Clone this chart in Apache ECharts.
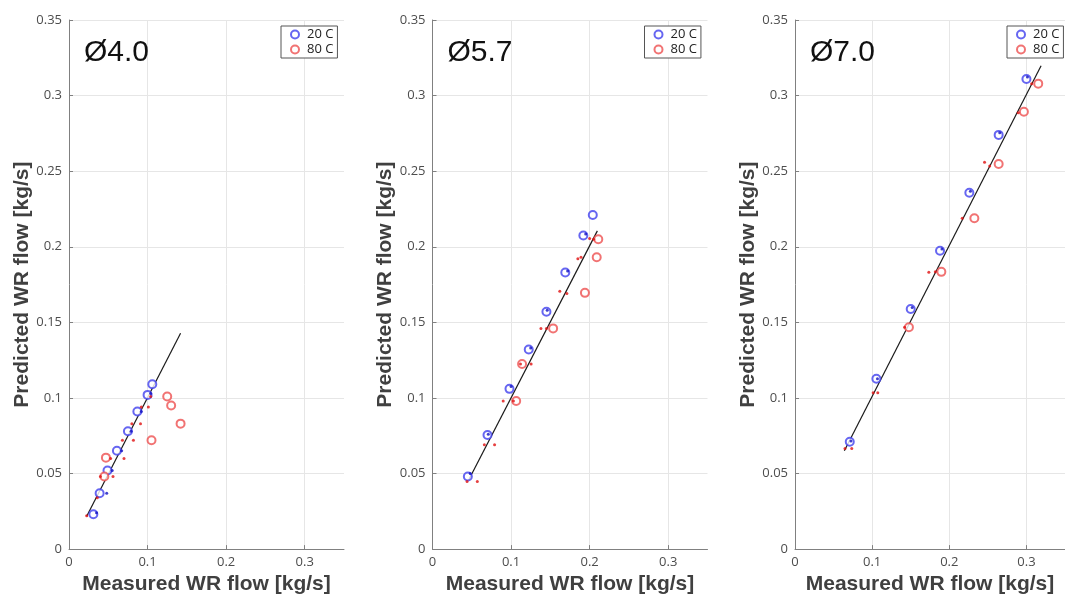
<!DOCTYPE html>
<html>
<head>
<meta charset="utf-8">
<script src="https://cdn.jsdelivr.net/npm/echarts@6/dist/echarts.min.js"></script>
<style>
  html, body { margin: 0; padding: 0; background: #fff; }
  #chart { width: 1065px; height: 600px; }
</style>
</head>
<body>
<div id="chart"></div>
<script>
// Tick values shared by all three panels
const axisTicks = [0, 0.05, 0.1, 0.15, 0.2, 0.25, 0.3, 0.35];
const xTickValues = [0, 0.1, 0.2, 0.3];
const panelTitles = ['Ø4.0', 'Ø5.7', 'Ø7.0'];
const seriesNames = ['20 C', '80 C'];

// Ø4.0 : [measured, predicted] in kg/s
const d40Circles20 = [[0.031, 0.023], [0.039, 0.037], [0.049, 0.052], [0.061, 0.065], [0.075, 0.078], [0.087, 0.091], [0.100, 0.102], [0.106, 0.109]];
const d40Circles80 = [[0.045, 0.048], [0.047, 0.0605], [0.105, 0.072], [0.125, 0.101], [0.130, 0.095], [0.142, 0.083]];
const d40Dots20 = [[0.035, 0.024], [0.048, 0.037], [0.055, 0.052], [0.067, 0.065], [0.079, 0.078], [0.092, 0.091], [0.104, 0.103]];
const d40Dots80 = [[0.0225, 0.022], [0.036, 0.034], [0.040, 0.048], [0.056, 0.048], [0.053, 0.060], [0.070, 0.060], [0.068, 0.072], [0.082, 0.072], [0.080, 0.083], [0.091, 0.083], [0.092, 0.094], [0.101, 0.094], [0.104, 0.101]];
const d40Fit = [[0.0225, 0.0217], [0.142, 0.1428]];

// Ø5.7
const d57Circles20 = [[0.045, 0.048], [0.070, 0.0755], [0.098, 0.106], [0.1225, 0.132], [0.145, 0.157], [0.169, 0.183], [0.192, 0.2075], [0.204, 0.221]];
const d57Circles80 = [[0.1065, 0.098], [0.114, 0.1225], [0.1535, 0.146], [0.194, 0.1695], [0.209, 0.193], [0.211, 0.205]];
const d57Dots20 = [[0.048, 0.050], [0.071, 0.076], [0.100, 0.1075], [0.125, 0.133], [0.146, 0.158], [0.172, 0.184], [0.195, 0.2085]];
const d57Dots80 = [[0.044, 0.0447], [0.057, 0.0447], [0.066, 0.069], [0.079, 0.069], [0.090, 0.098], [0.103, 0.098], [0.112, 0.1225], [0.1255, 0.1225], [0.138, 0.146], [0.145, 0.146], [0.162, 0.1705], [0.171, 0.169], [0.185, 0.192], [0.189, 0.193], [0.200, 0.2055], [0.205, 0.205]];
const d57Fit = [[0.046, 0.0457], [0.2098, 0.2105]];

// Ø7.0
const d70Circles20 = [[0.071, 0.071], [0.1055, 0.1127], [0.150, 0.1588], [0.188, 0.1974], [0.226, 0.2357], [0.264, 0.274], [0.300, 0.311]];
const d70Circles80 = [[0.1477, 0.1467], [0.1897, 0.1834], [0.2325, 0.2189], [0.264, 0.2548], [0.2967, 0.2893], [0.3153, 0.3079]];
const d70Dots20 = [[0.0725, 0.0715], [0.1069, 0.1127], [0.1519, 0.1599], [0.1905, 0.1985], [0.2274, 0.2368], [0.2654, 0.2754], [0.3013, 0.3123]];
const d70Dots80 = [[0.0648, 0.0666], [0.0736, 0.0666], [0.1013, 0.1035], [0.1073, 0.1035], [0.142, 0.1467], [0.1735, 0.1831], [0.1819, 0.1834], [0.2168, 0.2189], [0.2457, 0.2559], [0.2524, 0.2535], [0.2893, 0.2886], [0.3068, 0.3079]];
const d70Fit = [[0.064, 0.065], [0.319, 0.3197]];

const panels = [
  { c20: d40Circles20, c80: d40Circles80, p20: d40Dots20, p80: d40Dots80, fit: d40Fit },
  { c20: d57Circles20, c80: d57Circles80, p20: d57Dots20, p80: d57Dots80, fit: d57Fit },
  { c20: d70Circles20, c80: d70Circles80, p20: d70Dots20, p80: d70Dots80, fit: d70Fit }
];

const BLUE = '#4040ee';
const RED = '#ee5050';
const panelLeft = [69, 432.5, 795];
const plotW = 275, plotTop = 20, plotH = 532;
const tickFont = '"Open Sans", "DejaVu Sans", sans-serif';
const labelFont = '"Liberation Sans", Arial, sans-serif';

const fmt = v => v === 0 ? '0' : String(+v.toFixed(2));

const grid = [], xAxis = [], yAxis = [], series = [], title = [], legend = [];

panels.forEach((p, i) => {
  grid.push({ left: panelLeft[i], top: plotTop, width: plotW, height: plotH, containLabel: false });
  const common = {
    min: axisTicks[0], max: axisTicks[axisTicks.length - 1], interval: 0.05,
    gridIndex: i,
    axisLine: { show: true, lineStyle: { color: '#808080', width: 1 } },
    axisTick: { show: true, inside: true, length: 4, lineStyle: { color: '#808080' } },
    splitLine: { show: true, lineStyle: { color: '#e6e6e6', width: 1 } },
    nameLocation: 'middle',
    nameTextStyle: { fontFamily: labelFont, fontWeight: 'bold', fontSize: 21, color: '#404040' }
  };
  xAxis.push(Object.assign({}, common, {
    type: 'value',
    interval: 0.1,
    name: 'Measured WR flow [kg/s]',
    nameGap: 21,
    axisLabel: { fontFamily: tickFont, fontSize: 13, color: '#4d4d4d', margin: 7, formatter: fmt,
      customValues: xTickValues },
    axisTick: { show: true, inside: true, length: 4, lineStyle: { color: '#808080' }, customValues: xTickValues }
  }));
  yAxis.push(Object.assign({}, common, {
    type: 'value',
    name: 'Predicted WR flow [kg/s]',
    nameGap: 33,
    axisLabel: { fontFamily: tickFont, fontSize: 13, color: '#4d4d4d', margin: 7, formatter: fmt }
  }));

  title.push({
    text: panelTitles[i], left: panelLeft[i] + 15, top: 38, padding: 0,
    textStyle: { fontFamily: labelFont, fontSize: 30, fontWeight: 'normal', color: '#111' }
  });

  legend.push({
    data: seriesNames.map(n => ({ name: n, icon: 'emptyCircle' })),
    orient: 'vertical',
    left: panelLeft[i] + 212, top: 26,
    itemWidth: 8, itemHeight: 8, itemGap: 2,
    padding: [2, 4, 2, 9],
    borderColor: '#555', borderWidth: 1, backgroundColor: '#fff',
    textStyle: { fontFamily: tickFont, fontSize: 13, color: '#222', padding: [0, 0, 0, 3] },
    selectedMode: false
  });

  series.push({
    type: 'line', xAxisIndex: i, yAxisIndex: i, data: p.fit,
    symbol: 'none', lineStyle: { color: '#1a1a1a', width: 1.2 }, silent: true, z: 2
  });
  series.push({
    type: 'scatter', name: '20 C', xAxisIndex: i, yAxisIndex: i, data: p.c20,
    symbol: 'emptyCircle', symbolSize: 8,
    itemStyle: { color: BLUE, borderColor: BLUE, borderWidth: 1 }, z: 3
  });
  series.push({
    type: 'scatter', name: '80 C', xAxisIndex: i, yAxisIndex: i, data: p.c80,
    symbol: 'emptyCircle', symbolSize: 8,
    itemStyle: { color: RED, borderColor: RED, borderWidth: 1 }, z: 3
  });
  series.push({
    type: 'scatter', xAxisIndex: i, yAxisIndex: i, data: p.p20,
    symbol: 'circle', symbolSize: 3, itemStyle: { color: '#1010c0' }, z: 4
  });
  series.push({
    type: 'scatter', xAxisIndex: i, yAxisIndex: i, data: p.p80,
    symbol: 'circle', symbolSize: 3, itemStyle: { color: '#e01010' }, z: 4
  });
});

const chart = echarts.init(document.getElementById('chart'), null, { renderer: 'canvas' });
chart.setOption({
  animation: false,
  backgroundColor: '#fff',
  title, legend, grid, xAxis, yAxis, series
});
</script>
</body>
</html>
